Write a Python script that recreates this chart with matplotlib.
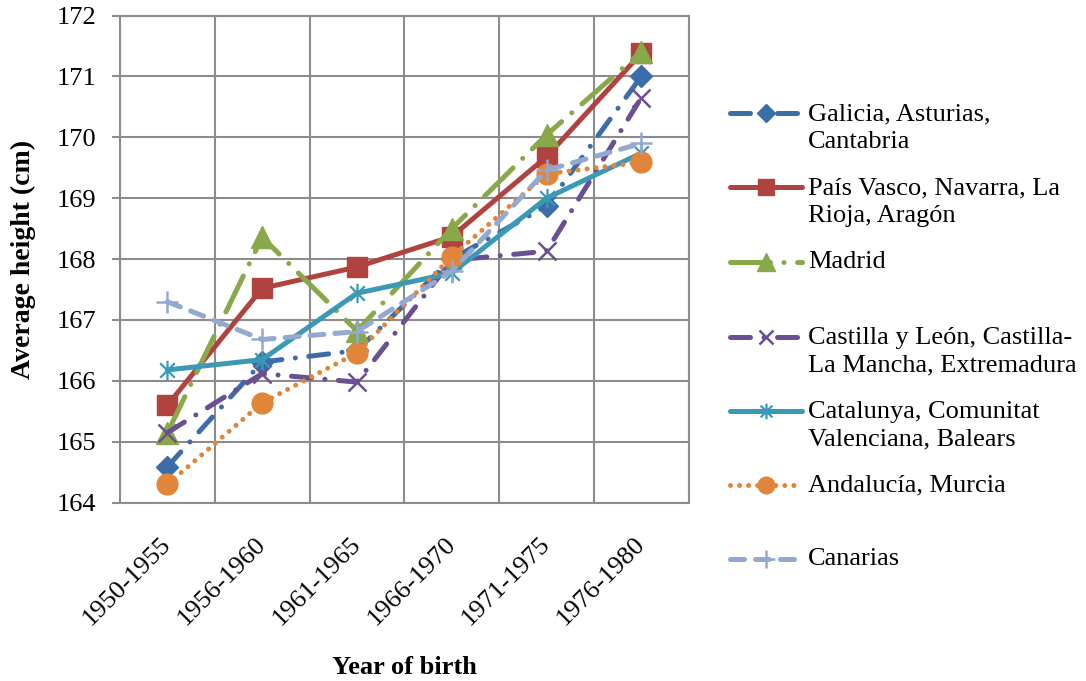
import matplotlib
matplotlib.use("Agg")
import matplotlib.pyplot as plt
from matplotlib.lines import Line2D
from matplotlib.path import Path
import matplotlib.transforms as mtransforms
import numpy as np

# ---------------- data ----------------
categories = ["1950-1955", "1956-1960", "1961-1965", "1966-1970", "1971-1975", "1976-1980"]
galicia   = [164.59, 166.31, 166.50, 168.00, 168.87, 171.00]
pais_vasco = [165.60, 167.52, 167.87, 168.37, 169.68, 171.38]
madrid    = [165.15, 168.36, 166.82, 168.50, 170.04, 171.40]
castilla  = [165.15, 166.12, 165.98, 167.98, 168.13, 170.65]
catalunya = [166.18, 166.35, 167.44, 167.77, 169.00, 169.74]
andalucia = [164.30, 165.64, 166.46, 168.04, 169.40, 169.59]
canarias  = [167.30, 166.68, 166.81, 167.80, 169.46, 169.90]
labels = ["Galicia, Asturias,\nCantabria",
          "País Vasco, Navarra, La\nRioja, Aragón",
          "Madrid",
          "Castilla y León, Castilla-\nLa Mancha, Extremadura",
          "Catalunya, Comunitat\nValenciana, Balears",
          "Andalucía, Murcia",
          "Canarias"]
y_ticks = [164, 165, 166, 167, 168, 169, 170, 171, 172]

plt.rcParams['font.family'] = ['Liberation Serif', 'DejaVu Serif']

W, H = 1086, 681
fig = plt.figure(figsize=(W / 100, H / 100), dpi=100)
ax = fig.add_axes([120 / W, 1 - 502.7 / H, (688.7 - 120) / W, (502.7 - 15.5) / H])

star = Path([(0, -1), (0, 1), (-0.75, -0.75), (0.75, 0.75), (-0.75, 0.75), (0.75, -0.75)],
            [Path.MOVETO, Path.LINETO, Path.MOVETO, Path.LINETO, Path.MOVETO, Path.LINETO])

LW = 3.6
styles = [
    dict(color='#3D6DA8', marker='D', ms=11.5, dashes=(4.0, 2.7, 0.01, 2.7), mew=1),
    dict(color='#B04340', marker='s', ms=15, dashes=None, mew=1),
    dict(color='#88A849', marker='^', ms=16, dashes=(8, 2.7, 0.01, 2.7), mew=1),
    dict(color='#6B4F93', marker='x', ms=13, dashes=(4.0, 2.7, 0.01, 2.7), mew=1.8),
    dict(color='#3A9AB5', marker=star, ms=14, dashes=None, mew=1.6),
    dict(color='#E08539', marker='o', ms=15, dashes=(0.01, 1.8), mew=1),
    dict(color='#92A9D1', marker='+', ms=16, dashes=(2.8, 2.2), mew=1.8),
]
all_series = [galicia, pais_vasco, madrid, castilla, catalunya, andalucia, canarias]

x = np.arange(len(categories))
for vals, st in zip(all_series, styles):
    kw = dict(color=st['color'], lw=LW, marker=st['marker'], ms=st['ms'],
              mfc=st['color'], mec=st['color'], mew=st['mew'],
              solid_capstyle='round', dash_capstyle='round', zorder=3)
    if st['dashes'] is None:
        ax.plot(x, vals, linestyle='-', **kw)
    else:
        ax.plot(x, vals, linestyle=(0, st['dashes']), **kw)

grid_col = '#8C8C8C'
ax.set_xlim(-0.5, 5.5)
ax.set_ylim(164, 172)
ax.set_yticks(y_ticks)
ax.set_yticklabels([str(v) for v in y_ticks])
ax.set_xticks(x)
ax.set_xticklabels(categories, rotation=45, ha='right', va='top')
ax.set_xticks(np.arange(-0.5, 6.0, 1.0), minor=True)
ax.grid(True, axis='y', which='major', color=grid_col, lw=1.5)
ax.grid(True, axis='x', which='minor', color=grid_col, lw=1.5)
ax.tick_params(axis='y', which='major', direction='out', length=6, width=1.5,
               color=grid_col, labelsize=19, pad=11)
ax.tick_params(axis='x', which='both', length=0, labelsize=19, pad=22)
offset = mtransforms.ScaledTranslation(8 / 100, 0, fig.dpi_scale_trans)
for lbl in ax.get_xticklabels():
    lbl.set_transform(lbl.get_transform() + offset)
for s in ax.spines.values():
    s.set_color(grid_col)
    s.set_linewidth(1.5)
ax.set_axisbelow(True)

ax.set_ylabel("Average height (cm)", fontsize=20, fontweight='bold')
ax.yaxis.set_label_coords((23 - 120) / (688.7 - 120), 0.5)
ax.set_xlabel("Year of birth", fontsize=19, fontweight='bold')
ax.xaxis.set_label_coords(0.5, -(667 - 502.7) / (502.7 - 15.5))
ax.xaxis.label.set_va('center')
ax.yaxis.label.set_va('center')

# ---------------- legend (manual layout) ----------------
legend_y = [113, 187, 262, 337, 411, 485, 559]
two_line = [True, True, False, True, True, False, False]
for lab, st, yy, two in zip(labels, styles, legend_y, two_line):
    fy = 1 - yy / H
    ls = '-' if st['dashes'] is None else (0, st['dashes'])
    fig.add_artist(Line2D([730 / W, 802 / W], [fy, fy], transform=fig.transFigure,
                          color=st['color'], lw=LW, linestyle=ls,
                          solid_capstyle='round', dash_capstyle='round'))
    fig.add_artist(Line2D([766 / W], [fy], transform=fig.transFigure,
                          color=st['color'], marker=st['marker'], ms=st['ms'] * 0.8,
                          mfc=st['color'], mec=st['color'], mew=st['mew'], lw=0))
    if two:
        fig.text(808 / W, 1 - (yy + 15) / H, lab, fontsize=19, va='center', ha='left',
                 linespacing=1.3)
    else:
        fig.text(808 / W, fy, lab, fontsize=19, va='center', ha='left')

fig.savefig("out.png", dpi=100)
